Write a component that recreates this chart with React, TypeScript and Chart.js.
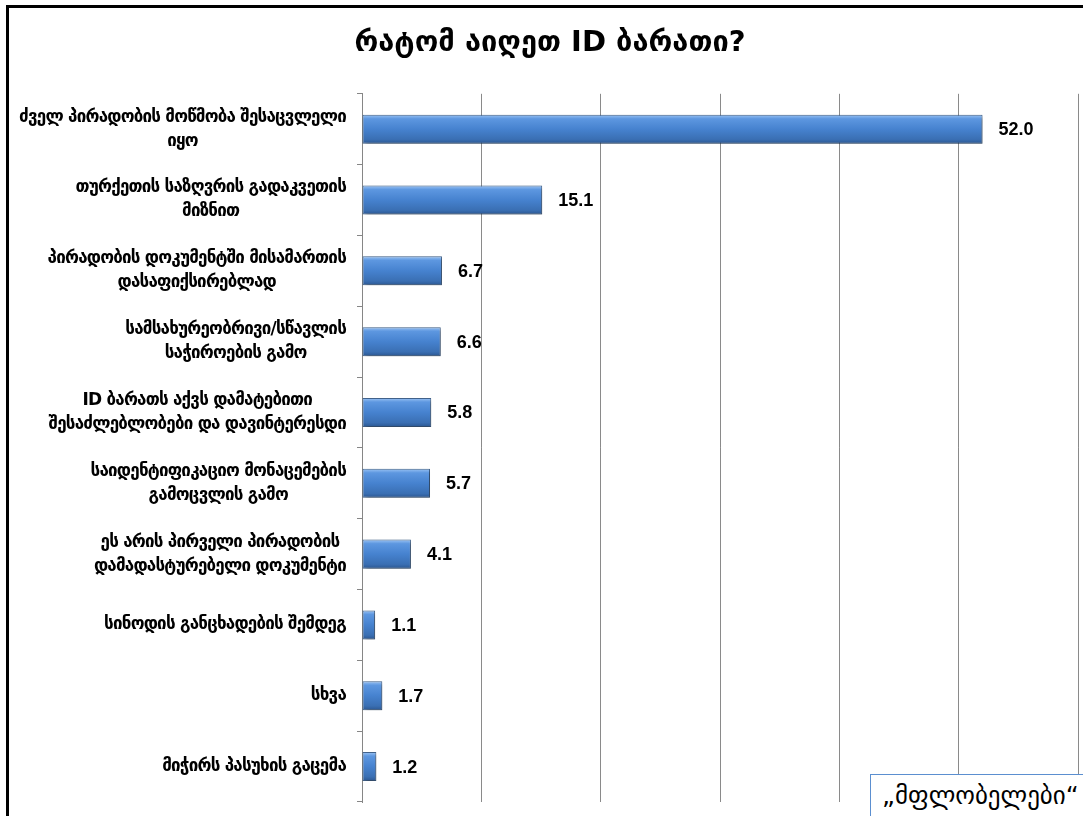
import React, { useEffect, useRef } from "react";
import { Chart, registerables } from "chart.js";

Chart.register(...registerables);

const TITLE = "რატომ აიღეთ ID ბარათი?";
const BOX_TEXT = "„მფლობელები“";

const categories: string[][] = [
  ["ძველ პირადობის მოწმობა შესაცვლელი", "იყო"],
  ["თურქეთის საზღვრის გადაკვეთის", "მიზნით"],
  ["პირადობის დოკუმენტში მისამართის", "დასაფიქსირებლად"],
  ["სამსახურეობრივი/სწავლის", "საჭიროების გამო"],
  ["ID ბარათს აქვს დამატებითი", "შესაძლებლობები და დავინტერესდი"],
  ["საიდენტიფიკაციო მონაცემების", "გამოცვლის გამო"],
  ["ეს არის პირველი პირადობის", "დამადასტურებელი დოკუმენტი"],
  ["სინოდის განცხადების შემდეგ"],
  ["სხვა"],
  ["მიჭირს პასუხის გაცემა"],
];

const values: number[] = [52.0, 15.1, 6.7, 6.6, 5.8, 5.7, 4.1, 1.1, 1.7, 1.2];

const xTicks: number[] = [0, 10, 20, 30, 40, 50, 60];

const GEO_FONT = "'DejaVu Sans', 'Noto Sans', sans-serif";
const NUM_FONT = "'Liberation Sans', Arial, sans-serif";

const labelPlugin = {
  id: "customLabels",
  beforeDatasetsDraw(chart: any) {
    const c = chart.ctx;
    c.save();
    c.shadowColor = "rgba(0,0,0,0.35)";
    c.shadowBlur = 4;
    c.shadowOffsetX = 2;
    c.shadowOffsetY = 2;
  },
  afterDatasetsDraw(chart: any) {
    chart.ctx.restore();
  },
  afterDraw(chart: any) {
    const c = chart.ctx;
    const yScale = chart.scales.y;
    const xScale = chart.scales.x;
    c.save();
    c.fillStyle = "#000";
    c.font = `bold 17px ${GEO_FONT}`;
    c.textBaseline = "middle";
    c.textAlign = "center";
    // tighten letter spacing so the widest label line is ~327px
    let widest = "";
    let widestW = 0;
    categories.forEach((lines) =>
      lines.forEach((l) => {
        const w = c.measureText(l).width;
        if (w > widestW) {
          widestW = w;
          widest = l;
        }
      })
    );
    const ls = Math.min(0, (327 - widestW) / widest.length);
    (c as any).letterSpacing = `${ls.toFixed(2)}px`;
    const rightEdge = yScale.right - 16;
    const lineH = 24;
    categories.forEach((lines, i) => {
      const yc = yScale.getPixelForValue(i);
      let maxW = 0;
      lines.forEach((l) => {
        maxW = Math.max(maxW, c.measureText(l).width);
      });
      const cx = rightEdge - maxW / 2;
      const startY = yc - ((lines.length - 1) * lineH) / 2;
      lines.forEach((l, k) => {
        c.fillText(l, cx, startY + k * lineH);
      });
    });
    (c as any).letterSpacing = "0px";
    c.font = `bold 18px ${NUM_FONT}`;
    c.textAlign = "left";
    values.forEach((v, i) => {
      const x = xScale.getPixelForValue(v) + 16;
      const y = yScale.getPixelForValue(i);
      c.fillText(v.toFixed(1), x, y + 1);
    });
    c.restore();
  },
};

export default function App() {
  const ref = useRef<HTMLCanvasElement | null>(null);
  useEffect(() => {
    if (!ref.current) return;
    const BAR_H = 29;
    const chart = new Chart(ref.current, {
      type: "bar",
      data: {
        labels: categories.map((l) => l.join(" ")),
        datasets: [
          {
            data: values,
            barPercentage: 0.41,
            categoryPercentage: 1,
            borderWidth: 1,
            borderColor: "rgba(35,75,125,0.85)",
            borderSkipped: false,
            backgroundColor: (ctx: any) => {
              const chart = ctx.chart;
              const ys = chart.scales && chart.scales.y;
              if (!ys || ctx.dataIndex === undefined) return "#4A83CE";
              const y = ys.getPixelForValue(ctx.dataIndex);
              if (!isFinite(y)) return "#4A83CE";
              const g = chart.ctx.createLinearGradient(0, y - BAR_H / 2, 0, y + BAR_H / 2);
              g.addColorStop(0, "#9cc4f4");
              g.addColorStop(0.14, "#5d97e0");
              g.addColorStop(0.5, "#4682cf");
              g.addColorStop(0.85, "#3a6fb3");
              g.addColorStop(1, "#2b5690");
              return g;
            },
          },
        ],
      },
      options: {
        indexAxis: "y",
        responsive: false,
        animation: false,
        devicePixelRatio: 1,
        layout: { padding: { top: 0, bottom: 14, right: 22, left: 22 } },
        plugins: {
          legend: { display: false },
          tooltip: { enabled: false },
          title: {
            display: true,
            text: TITLE,
            color: "#000",
            font: { family: GEO_FONT, size: 29, weight: "bold" },
            padding: { top: 26, bottom: 33 },
          },
        },
        scales: {
          x: {
            min: xTicks[0],
            max: xTicks[xTicks.length - 1],
            ticks: { display: false, stepSize: 10 },
            border: { display: false },
            grid: { color: "#8a8a8a", lineWidth: 1, drawTicks: false },
          },
          y: {
            ticks: { display: false },
            border: { display: true, color: "#868686", width: 1 },
            grid: {
              drawOnChartArea: false,
              drawTicks: true,
              tickLength: 5,
              color: "#868686",
            },
            afterFit: (scale: any) => {
              scale.width = 340;
            },
          },
        },
      },
      plugins: [labelPlugin],
    });
    return () => chart.destroy();
  }, []);

  return (
    <div
      style={{
        position: "fixed",
        left: 0,
        top: 0,
        width: 1083,
        height: 816,
        overflow: "hidden",
        background: "#fff",
      }}
    >
      <canvas
        ref={ref}
        width={1100}
        height={816}
        style={{ position: "absolute", left: 0, top: 0, display: "block" }}
      />
      <div
        style={{
          position: "absolute",
          left: 6,
          top: 5,
          width: 2000,
          height: 2000,
          border: "3px solid #000",
          pointerEvents: "none",
        }}
      />
      <div
        style={{
          position: "absolute",
          left: 870,
          top: 774,
          width: 260,
          height: 60,
          boxSizing: "border-box",
          border: "1px solid #5b8fd0",
          background: "#fff",
          fontFamily: GEO_FONT,
          fontSize: 25,
          lineHeight: "28px",
          paddingTop: 7,
          paddingLeft: 11,
          color: "#000",
          whiteSpace: "nowrap",
        }}
      >
        {BOX_TEXT}
      </div>
    </div>
  );
}
